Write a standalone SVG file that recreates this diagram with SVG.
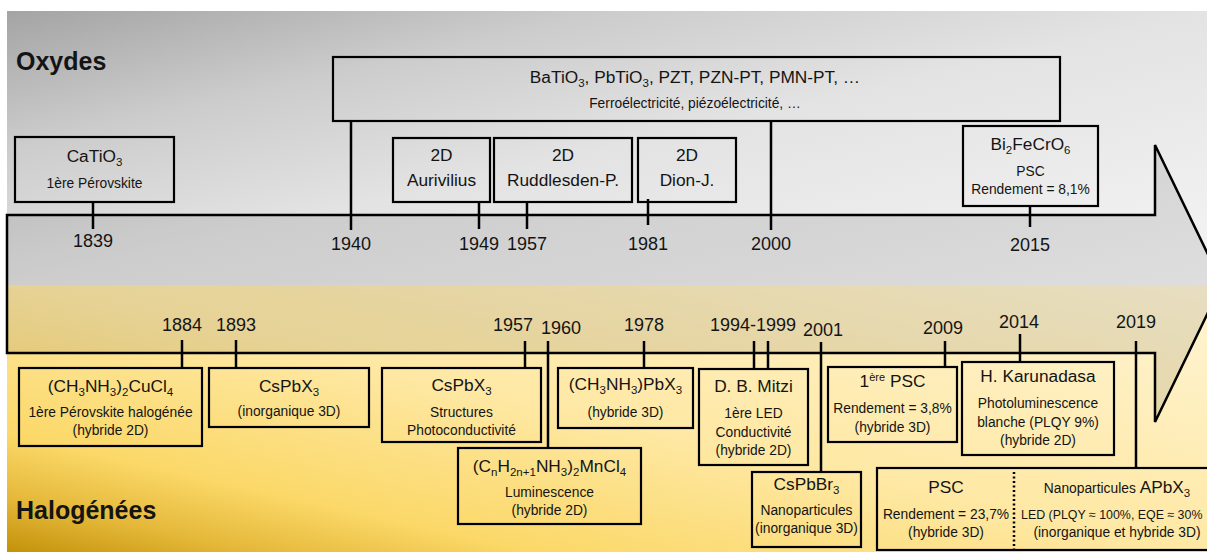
<svg xmlns="http://www.w3.org/2000/svg" width="1207" height="552" viewBox="0 0 1207 552">
<style>
  text { font-family: "Liberation Sans", Arial, sans-serif; fill: #141414; }
  .t { font-size: 17.3px; text-anchor: middle; }
  .s { font-size: 13.8px; text-anchor: middle; }
  .y { font-size: 18px; text-anchor: middle; }
  .h { font-size: 25px; font-weight: bold; }
  .box { fill: none; stroke: #000; stroke-width: 2.2; }
  .tick { stroke: #000; stroke-width: 2.5; fill: none; }
</style>
<defs>
  <linearGradient id="gTop" x1="0" y1="0" x2="1" y2="1">
    <stop offset="0" stop-color="#a4a4a4"/>
    <stop offset="0.25" stop-color="#cccccc"/>
    <stop offset="0.5" stop-color="#e3e3e3"/>
    <stop offset="1" stop-color="#f5f5f5"/>
  </linearGradient>
  <linearGradient id="gBot" x1="0" y1="1" x2="1" y2="0">
    <stop offset="0" stop-color="#c3920a"/>
    <stop offset="0.1" stop-color="#e4b738"/>
    <stop offset="0.22" stop-color="#fbd868"/>
    <stop offset="0.5" stop-color="#fee8a4"/>
    <stop offset="1" stop-color="#fff5d6"/>
  </linearGradient>
</defs>

<g id="background">
  <rect x="0" y="0" width="1207" height="552" fill="#ffffff"/>
  <rect x="7" y="11" width="1200" height="274" fill="url(#gTop)"/>
  <rect x="7" y="285" width="1200" height="267" fill="url(#gBot)"/>
  <text class="h" x="16" y="70">Oxydes</text>
  <text class="h" x="16" y="519">Halogénées</text>
</g>

<g id="arrow">
  <path d="M7,215 L1155,215 L1155,145 L1222,283.5 L1155,422 L1155,353 L7,353 Z" fill="#000" fill-opacity="0.095" stroke="#000" stroke-width="2.5" stroke-linejoin="miter"/>
</g>

<g id="connectors">
  <line class="tick" x1="93" y1="202" x2="93" y2="229"/>
  <line class="tick" x1="351" y1="121" x2="351" y2="230"/>
  <line class="tick" x1="479" y1="202" x2="479" y2="229"/>
  <line class="tick" x1="527" y1="202" x2="527" y2="229"/>
  <line class="tick" x1="648" y1="199" x2="648" y2="225"/>
  <line class="tick" x1="771" y1="121" x2="771" y2="230"/>
  <line class="tick" x1="1030" y1="206" x2="1030" y2="227"/>
  <line class="tick" x1="182" y1="340" x2="182" y2="368"/>
  <line class="tick" x1="236" y1="340" x2="236" y2="368"/>
  <line class="tick" x1="525" y1="341" x2="525" y2="368"/>
  <line class="tick" x1="548" y1="341" x2="548" y2="448"/>
  <line class="tick" x1="644" y1="341" x2="644" y2="368"/>
  <line class="tick" x1="754" y1="341" x2="754" y2="369"/>
  <line class="tick" x1="768" y1="341" x2="768" y2="369"/>
  <line class="tick" x1="821" y1="342" x2="821" y2="472"/>
  <line class="tick" x1="945" y1="341" x2="945" y2="367"/>
  <line class="tick" x1="1020" y1="334" x2="1020" y2="362"/>
  <line class="tick" x1="1136" y1="341" x2="1136" y2="468"/>
</g>

<g id="years">
  <text class="y" x="93" y="247">1839</text>
  <text class="y" x="351" y="250">1940</text>
  <text class="y" x="479" y="250">1949</text>
  <text class="y" x="527" y="250">1957</text>
  <text class="y" x="648" y="250">1981</text>
  <text class="y" x="771" y="250">2000</text>
  <text class="y" x="1030" y="251">2015</text>
  <text class="y" x="182" y="331">1884</text>
  <text class="y" x="236" y="331">1893</text>
  <text class="y" x="513" y="331">1957</text>
  <text class="y" x="561" y="334">1960</text>
  <text class="y" x="644" y="331">1978</text>
  <text class="y" x="753" y="331">1994-1999</text>
  <text class="y" x="823" y="336">2001</text>
  <text class="y" x="943" y="334">2009</text>
  <text class="y" x="1019" y="328">2014</text>
  <text class="y" x="1136" y="328">2019</text>
</g>

<g id="n-catio3">
  <rect class="box" x="15" y="137" width="159" height="65"/>
  <text class="t" x="94.5" y="162">CaTiO<tspan font-size="11.5" dy="4">3</tspan></text>
  <text class="s" x="94.5" y="188">1ère Pérovskite</text>
</g>

<g id="n-batio3">
  <rect class="box" x="333" y="57" width="727" height="64"/>
  <text class="t" x="695" y="83">BaTiO<tspan font-size="11.5" dy="4">3</tspan><tspan dy="-4">, PbTiO</tspan><tspan font-size="11.5" dy="4">3</tspan><tspan dy="-4">, PZT, PZN-PT, PMN-PT, …</tspan></text>
  <text class="s" x="695" y="108" font-size="14.8px">Ferroélectricité, piézoélectricité, …</text>
</g>

<g id="n-aurivilius">
  <rect class="box" x="393" y="138" width="97" height="64"/>
  <text class="t" x="441.5" y="161">2D</text>
  <text class="t" x="441.5" y="186">Aurivilius</text>
</g>

<g id="n-ruddlesden">
  <rect class="box" x="494" y="138" width="138" height="64"/>
  <text class="t" x="563" y="161">2D</text>
  <text class="t" x="563" y="186">Ruddlesden-P.</text>
</g>

<g id="n-dion">
  <rect class="box" x="638" y="138" width="98" height="64"/>
  <text class="t" x="687" y="161">2D</text>
  <text class="t" x="687" y="186">Dion-J.</text>
</g>

<g id="n-bi2fecro6">
  <rect class="box" x="963" y="126" width="135" height="80"/>
  <text class="t" x="1030.5" y="150">Bi<tspan font-size="11.5" dy="4">2</tspan><tspan dy="-4">FeCrO</tspan><tspan font-size="11.5" dy="4">6</tspan></text>
  <text class="s" x="1030.5" y="176">PSC</text>
  <text class="s" x="1030.5" y="194">Rendement = 8,1%</text>
</g>

<g id="n-cucl4">
  <rect class="box" x="19" y="368" width="183" height="78"/>
  <text class="t" x="110.5" y="392">(CH<tspan font-size="11.5" dy="4">3</tspan><tspan dy="-4">NH</tspan><tspan font-size="11.5" dy="4">3</tspan><tspan dy="-4">)</tspan><tspan font-size="11.5" dy="4">2</tspan><tspan dy="-4">CuCl</tspan><tspan font-size="11.5" dy="4">4</tspan></text>
  <text class="s" x="110.5" y="417">1ère Pérovskite halogénée</text>
  <text class="s" x="110.5" y="435">(hybride 2D)</text>
</g>

<g id="n-cspbx3-1893">
  <rect class="box" x="209" y="368" width="160" height="59"/>
  <text class="t" x="289" y="392">CsPbX<tspan font-size="11.5" dy="4">3</tspan></text>
  <text class="s" x="289" y="416">(inorganique 3D)</text>
</g>

<g id="n-cspbx3-1957">
  <rect class="box" x="382" y="368" width="159" height="74"/>
  <text class="t" x="461.5" y="391">CsPbX<tspan font-size="11.5" dy="4">3</tspan></text>
  <text class="s" x="461.5" y="417">Structures</text>
  <text class="s" x="461.5" y="435">Photoconductivité</text>
</g>

<g id="n-mncl4">
  <rect class="box" x="458" y="448" width="183" height="76"/>
  <text class="t" x="549.5" y="472">(C<tspan font-size="11.5" dy="4">n</tspan><tspan dy="-4">H</tspan><tspan font-size="11.5" dy="4">2n+1</tspan><tspan dy="-4">NH</tspan><tspan font-size="11.5" dy="4">3</tspan><tspan dy="-4">)</tspan><tspan font-size="11.5" dy="4">2</tspan><tspan dy="-4">MnCl</tspan><tspan font-size="11.5" dy="4">4</tspan></text>
  <text class="s" x="549.5" y="497">Luminescence</text>
  <text class="s" x="549.5" y="515">(hybride 2D)</text>
</g>

<g id="n-mapbx3">
  <rect class="box" x="558" y="368" width="135" height="60"/>
  <text class="t" x="625.5" y="390">(CH<tspan font-size="11.5" dy="4">3</tspan><tspan dy="-4">NH</tspan><tspan font-size="11.5" dy="4">3</tspan><tspan dy="-4">)PbX</tspan><tspan font-size="11.5" dy="4">3</tspan></text>
  <text class="s" x="625.5" y="417">(hybride 3D)</text>
</g>

<g id="n-mitzi">
  <rect class="box" x="699" y="369" width="109" height="96"/>
  <text class="t" x="753.5" y="392">D. B. Mitzi</text>
  <text class="s" x="753.5" y="418">1ère LED</text>
  <text class="s" x="753.5" y="437">Conductivité</text>
  <text class="s" x="753.5" y="455">(hybride 2D)</text>
</g>

<g id="n-cspbbr3">
  <rect class="box" x="752" y="472" width="109" height="75"/>
  <text class="t" x="806.5" y="490">CsPbBr<tspan font-size="11.5" dy="4">3</tspan></text>
  <text class="s" x="806.5" y="515">Nanoparticules</text>
  <text class="s" x="806.5" y="533">(inorganique 3D)</text>
</g>

<g id="n-psc2009">
  <rect class="box" x="828" y="367" width="129" height="75"/>
  <text class="t" x="892.5" y="387">1<tspan font-size="11" dy="-6">ère</tspan><tspan dy="6"> PSC</tspan></text>
  <text class="s" x="892.5" y="413">Rendement = 3,8%</text>
  <text class="s" x="892.5" y="432">(hybride 3D)</text>
</g>

<g id="n-karunadasa">
  <rect class="box" x="962" y="362" width="152" height="93"/>
  <text class="t" x="1038" y="382">H. Karunadasa</text>
  <text class="s" x="1038" y="408">Photoluminescence</text>
  <text class="s" x="1038" y="427">blanche (PLQY 9%)</text>
  <text class="s" x="1038" y="445">(hybride 2D)</text>
</g>

<g id="n-2019">
  <rect class="box" x="877" y="468" width="360" height="82"/>
  <line x1="1014" y1="472" x2="1014" y2="550" stroke="#000" stroke-width="2.5" stroke-dasharray="2 2.5"/>
  <text class="t" x="946" y="493">PSC</text>
  <text class="s" x="946" y="519" font-size="12.6px">Rendement = 23,7%</text>
  <text class="s" x="946" y="537">(hybride 3D)</text>
  <text class="s" x="1117" y="493">Nanoparticules <tspan font-size="17.3">APbX</tspan><tspan font-size="11.5" dy="4">3</tspan></text>
  <text x="1021" y="519" font-size="12.4px">LED (PLQY ≈ 100%, EQE ≈ 30%</text>
  <text class="s" x="1117" y="537" font-size="13.2px">(inorganique et hybride 3D)</text>
</g>
</svg>
